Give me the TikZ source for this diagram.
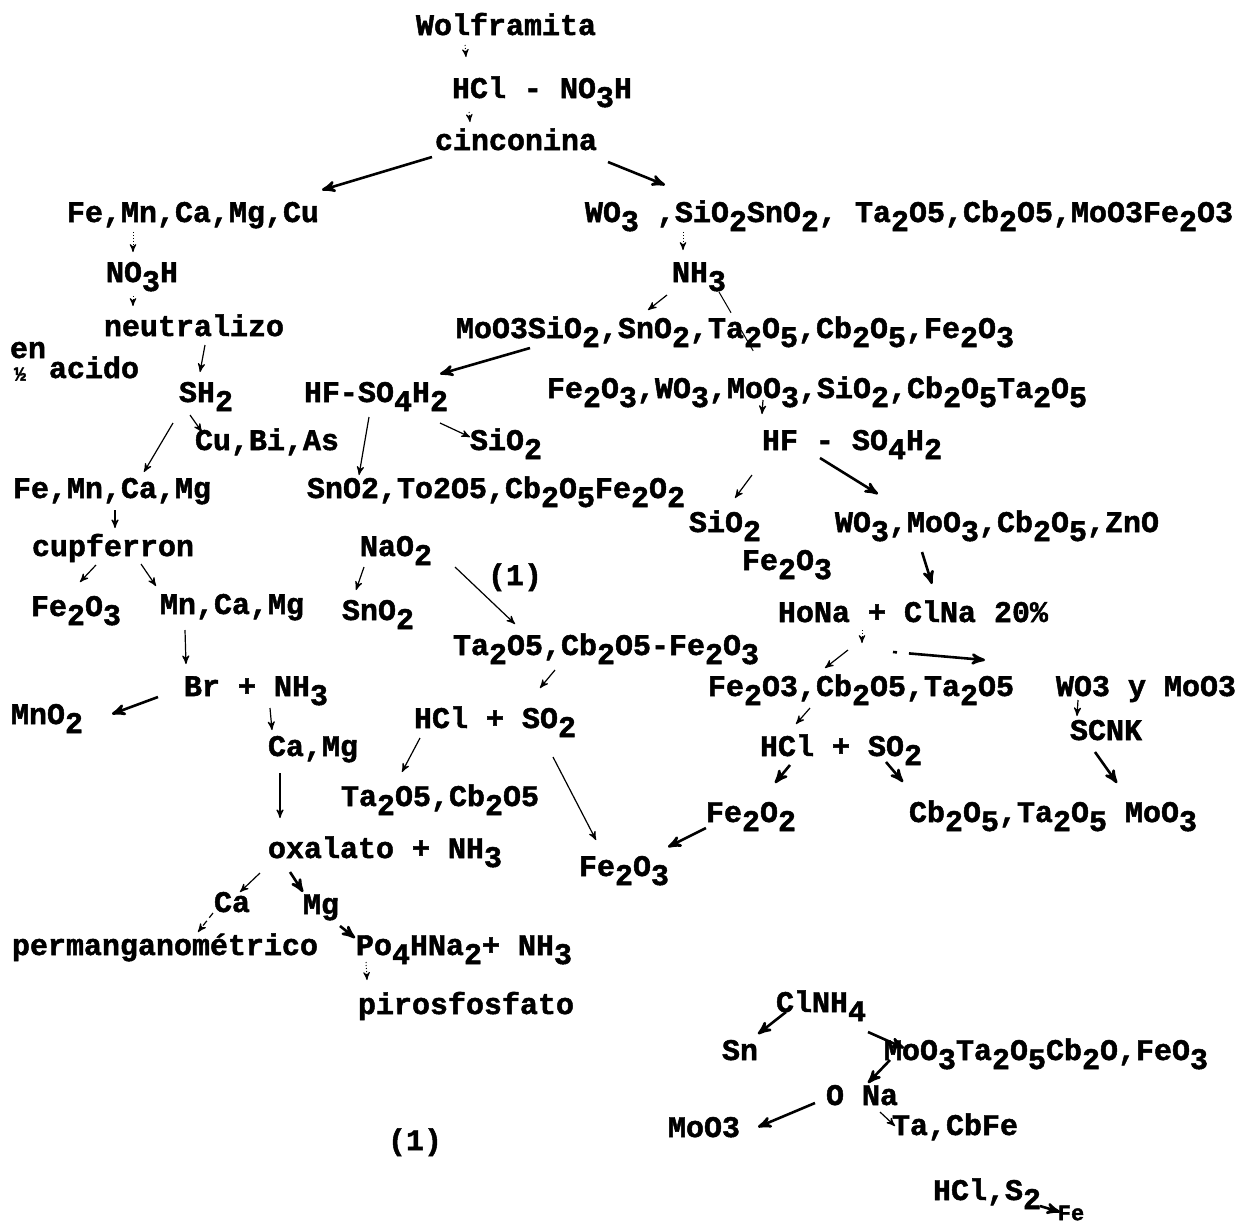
\documentclass[tikz,border=0pt]{standalone}
\usepackage{fontspec}
\newfontfamily\tw{Liberation Mono}[BoldFeatures={FakeBold=1.6}]
\usetikzlibrary{positioning, arrows, calc}
\newcommand\dn[1]{\raisebox{-0.3em}{#1}}
\tikzset{
  txt/.style={font=\tw\bfseries\fontsize{15}{18}\selectfont, inner sep=0pt, text height=10pt, text depth=0pt},
  ln/.style={->, line width=0.6pt},
  lnk/.style={->, line width=1.3pt},
  dt/.style={->, line width=0.5pt, densely dotted},
}

\begin{document}
\begin{tikzpicture}[x=0.5pt, y=-0.5pt, >=stealth']
\useasboundingbox (0,0) rectangle (1244,1223);

% top of the scheme
\node[txt] (wolf) at (506,25) {Wolframita};
\node[txt] (hcl) at (542,88) {HCl - NO\dn{3}H};
\node[txt] (cin) at (516,140) {cinconina};
\node[txt] (fe1) at (193,212) {Fe,Mn,Ca,Mg,Cu};
\node[txt] (wo3) at (909,212) {WO\dn3 ,SiO\dn2SnO\dn2, Ta\dn2O5,Cb\dn2O5,MoO3Fe\dn2O3};

% left branch
\node[txt] (no3h) at (142,272) {NO\dn3H};
\node[txt] (neut) at (194,326) {neutralizo};
\node[txt] (en) at (28,348) {en};
\node[font=\tw\bfseries\fontsize{10}{11}\selectfont, inner sep=0pt] (half) at (20,374) {½};
\node[txt] (acido) at (94,368) {acido};
\node[txt] (sh2) at (206,392) {SH\dn2};
\node[txt] (cubi) at (267,440) {Cu,Bi,As};
\node[txt] (femn) at (112,488) {Fe,Mn,Ca,Mg};
\node[txt] (cupf) at (113,546) {cupferron};
\node[txt] (fe2o3c) at (76,606) {Fe\dn2O\dn3};
\node[txt] (mncamg) at (232,604) {Mn,Ca,Mg};
\node[txt] (brnh) at (256,686) {Br + NH\dn3};
\node[txt] (mno2) at (47,714) {MnO\dn2};
\node[txt] (camg) at (313,746) {Ca,Mg};
\node[txt] (oxal) at (385,848) {oxalato + NH\dn3};
\node[txt] (ca) at (232,902) {Ca};
\node[txt] (mg) at (321,904) {Mg};
\node[txt] (perm) at (165,945) {permanganométrico};
\node[txt] (po4) at (464,945) {Po\dn4HNa\dn2+ NH\dn3};
\node[txt] (piro) at (466,1004) {pirosfosfato};

% middle branch
\node[txt] (nh3) at (699,272) {NH\dn3};
\node[txt] (moo3) at (735,328) {MoO3SiO\dn2,SnO\dn2,Ta\dn2O\dn5,Cb\dn2O\dn5,Fe\dn2O\dn3};
\node[txt] (hfso) at (376,392) {HF-SO\dn4H\dn2};
\node[txt] (sio2a) at (506,440) {SiO\dn2};
\node[txt] (sno2a) at (496,488) {SnO2,To2O5,Cb\dn2O\dn5Fe\dn2O\dn2};
\node[txt] (nao2) at (396,546) {NaO\dn2};
\node[txt] (one1) at (515,575) {(1)};
\node[txt] (sno2b) at (378,610) {SnO\dn2};
\node[txt] (ta2o5a) at (606,645) {Ta\dn2O5,Cb\dn2O5-Fe\dn2O\dn3};
\node[txt] (hclso) at (495,718) {HCl + SO\dn2};
\node[txt] (tacb) at (440,796) {Ta\dn2O5,Cb\dn2O5};
\node[txt] (fe2o3d) at (624,866) {Fe\dn2O\dn3};

% right branch
\node[txt] (fe2o3a) at (817,388) {Fe\dn2O\dn3,WO\dn3,MoO\dn3,SiO\dn2,Cb\dn2O\dn5Ta\dn2O\dn5};
\node[txt] (hfso2) at (852,440) {HF - SO\dn4H\dn2};
\node[txt] (sio2b) at (725,522) {SiO\dn2};
\node[txt] (fe2o3b) at (787,560) {Fe\dn2O\dn3};
\node[txt] (wo3b) at (997,522) {WO\dn3,MoO\dn3,Cb\dn2O\dn5,ZnO};
\node[txt] (hona) at (913,612) {HoNa + ClNa 20\%};
\node[txt] (fecbta) at (861,686) {Fe\dn2O3,Cb\dn2O5,Ta\dn2O5};
\node[txt] (wymo) at (1146,686) {WO3 y MoO3};
\node[txt] (scnk) at (1106,730) {SCNK};
\node[txt] (hclso2) at (841,746) {HCl + SO\dn2};
\node[txt] (fe2o2) at (751,812) {Fe\dn2O\dn2};
\node[txt] (cbta) at (1053,812) {Cb\dn2O\dn5,Ta\dn2O\dn5 MoO\dn3};

% (1)
\node[txt] (clnh) at (821,1002) {ClNH\dn4};
\node[txt] (sn) at (740,1050) {Sn};
\node[txt] (moota) at (1046,1050) {MoO\dn3Ta\dn2O\dn5Cb\dn2O,FeO\dn3};
\node[txt] (ona) at (862,1095) {O Na};
\node[txt] (moo3b) at (704,1127) {MoO3};
\node[txt] (one2) at (415,1140) {(1)};
\node[txt] (tacbfe) at (955,1125) {Ta,CbFe};
\node[txt] (hcls) at (987,1190) {HCl,S\dn2};
\node[font=\tw\bfseries\fontsize{11}{12}\selectfont, inner sep=0pt] (fe) at (1071,1213) {Fe};

% arrows
\draw[dt] ($(wolf)+(-41,20)$) -- ($(hcl)+(-76,-31)$);
\draw[dt] ($(hcl)+(-73,24)$) -- ($(cin)+(-46,-18)$);
\draw[lnk] ($(cin)+(-84,17)$) -- ($(fe1)+(129,-22)$);
\draw[lnk] ($(cin)+(92,22)$) -- ($(wo3)+(-244,-27)$);
\draw[dt] ($(fe1)+(-60,20)$) -- ($(no3h)+(-9,-20)$);
\draw[dt] ($(no3h)+(-9,24)$) -- ($(neut)+(-61,-20)$);
\draw[ln] ($(neut)+(11,19)$) -- ($(sh2)+(-6,-20)$);
\draw[dt] ($(wo3)+(-226,20)$) -- ($(nh3)+(-16,-22)$);
\draw[ln] ($(nh3)+(-32,23)$) -- ($(moo3)+(-87,-18)$);
\draw[line width=0.5pt, dash pattern=on 12pt off 10pt] ($(nh3)+(20,20)$) -- ($(fe2o3a)+(-55,-22)$);
\draw[lnk] ($(moo3)+(-205,20)$) -- ($(hfso)+(64,-18)$);
\draw[ln] ($(sh2)+(-16,23)$) -- ($(cubi)+(-65,-8)$);
\draw[ln] ($(sh2)+(-33,31)$) -- ($(femn)+(32,-16)$);
\draw[ln] ($(hfso)+(-7,25)$) -- ($(sno2a)+(-137,-13)$);
\draw[ln] ($(hfso)+(64,31)$) -- ($(sio2a)+(-36,-3)$);
\draw[ln] ($(fe2o3a)+(-54,12)$) -- ($(hfso2)+(-90,-26)$);
\draw[ln] ($(hfso2)+(-100,35)$) -- ($(sio2b)+(10,-24)$);
\draw[lnk] ($(hfso2)+(-32,18)$) -- ($(wo3b)+(-119,-28)$);
\draw[ln] ($(femn)+(3,22)$) -- ($(cupf)+(2,-18)$);
\draw[ln] ($(cupf)+(-17,19)$) -- ($(fe2o3c)+(4,-24)$);
\draw[ln] ($(cupf)+(28,18)$) -- ($(mncamg)+(-76,-18)$);
\draw[ln] ($(nao2)+(-32,21)$) -- ($(sno2b)+(-22,-20)$);
\draw[ln] ($(nao2)+(59,21)$) -- ($(ta2o5a)+(-91,-21)$);
\draw[lnk] ($(wo3b)+(-75,30)$) -- ($(hona)+(19,-28)$);
\draw[ln] ($(mncamg)+(-47,26)$) -- ($(brnh)+(-70,-22)$);
\draw[dt] ($(hona)+(-51,18)$) -- ($(fecbta)+(1,-43)$);
\draw[ln] ($(hona)+(-65,38)$) -- ($(fecbta)+(-36,-18)$);
\draw[lnk, dash pattern=on 2pt off 6pt on 80pt] ($(hona)+(-20,40)$) -- ($(wymo)+(-161,-26)$);
\draw[ln] ($(ta2o5a)+(-51,25)$) -- ($(hclso)+(45,-30)$);
\draw[lnk] ($(brnh)+(-98,11)$) -- ($(mno2)+(65,0)$);
\draw[ln] ($(brnh)+(14,22)$) -- ($(camg)+(-41,-16)$);
\draw[ln] ($(fecbta)+(-51,22)$) -- ($(hclso2)+(-45,-22)$);
\draw[ln] ($(wymo)+(-68,14)$) -- ($(scnk)+(-29,-14)$);
\draw[ln] ($(hclso)+(-75,20)$) -- ($(tacb)+(-38,-24)$);
\draw[ln] ($(hclso)+(58,39)$) -- ($(fe2o3d)+(-28,-26)$);
\draw[ln] ($(camg)+(-33,27)$) -- ($(oxal)+(-105,-30)$);
\draw[lnk] ($(hclso2)+(-51,19)$) -- ($(fe2o2)+(24,-29)$);
\draw[lnk] ($(hclso2)+(45,16)$) -- ($(cbta)+(-150,-30)$);
\draw[lnk] ($(scnk)+(-11,22)$) -- ($(cbta)+(64,-29)$);
\draw[lnk] ($(fe2o2)+(-45,16)$) -- ($(fe2o3d)+(44,-19)$);
\draw[ln] ($(oxal)+(-125,25)$) -- ($(ca)+(8,-10)$);
\draw[lnk] ($(oxal)+(-95,24)$) -- ($(mg)+(-18,-12)$);
\draw[ln, densely dashed] ($(ca)+(-19,11)$) -- ($(perm)+(33,-13)$);
\draw[lnk] ($(mg)+(19,22)$) -- ($(po4)+(-109,-7)$);
\draw[dt] ($(po4)+(-98,17)$) -- ($(piro)+(-99,-24)$);
\draw[lnk] ($(clnh)+(-35,10)$) -- ($(sn)+(18,-16)$);
\draw[lnk] ($(clnh)+(47,30)$) -- ($(moota)+(-142,-2)$);
\draw[lnk] ($(moota)+(-156,10)$) -- ($(ona)+(6,-12)$);
\draw[lnk] ($(ona)+(-47,8)$) -- ($(moo3b)+(54,0)$);
\draw[ln] ($(ona)+(18,17)$) -- ($(tacbfe)+(-60,1)$);
\draw[lnk] ($(hcls)+(53,16)$) -- ($(fe)+(-11,-1)$);
\end{tikzpicture}
\end{document}
